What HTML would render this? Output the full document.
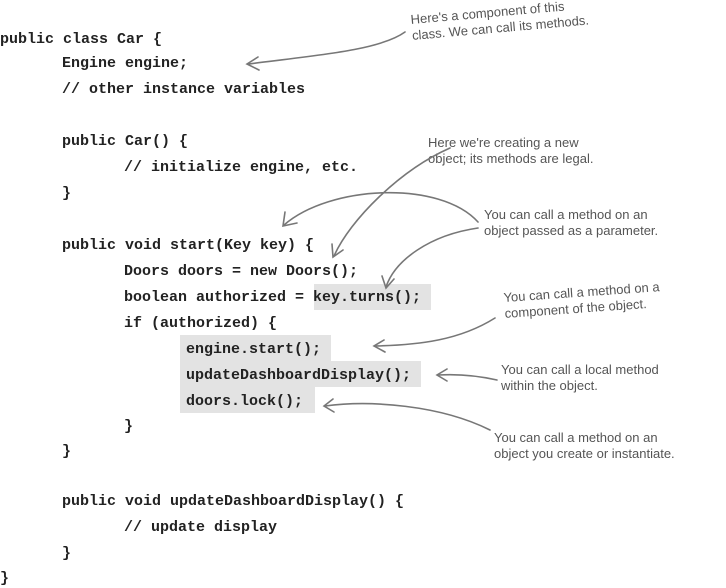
<!DOCTYPE html>
<html><head><meta charset="utf-8"><style>
body{margin:0;width:726px;height:585px;background:#fff;position:relative;overflow:hidden}
.c{position:absolute;font-family:"Liberation Mono",monospace;font-weight:bold;font-size:15px;color:#222;white-space:pre;line-height:18px}
.h{position:absolute;background:#e3e3e3}
.n{position:absolute;font-family:"Liberation Sans",sans-serif;font-size:13px;color:#555;line-height:16px;white-space:pre}
</style></head><body>
<div class="h" style="left:314px;top:284px;width:117px;height:26px"></div>
<div class="h" style="left:180px;top:335px;width:151px;height:26px"></div>
<div class="h" style="left:180px;top:361px;width:241px;height:26px"></div>
<div class="h" style="left:180px;top:387px;width:135px;height:26px"></div>
<div class="c" style="left:0;top:31px">public class Car {</div>
<div class="c" style="left:62px;top:55px">Engine engine;</div>
<div class="c" style="left:62px;top:81px">// other instance variables</div>
<div class="c" style="left:62px;top:133px">public Car() {</div>
<div class="c" style="left:124px;top:159px">// initialize engine, etc.</div>
<div class="c" style="left:62px;top:185px">}</div>
<div class="c" style="left:62px;top:237px">public void start(Key key) {</div>
<div class="c" style="left:124px;top:263px">Doors doors = new Doors();</div>
<div class="c" style="left:124px;top:289px">boolean authorized = key.turns();</div>
<div class="c" style="left:124px;top:315px">if (authorized) {</div>
<div class="c" style="left:186px;top:341px">engine.start();</div>
<div class="c" style="left:186px;top:367px">updateDashboardDisplay();</div>
<div class="c" style="left:186px;top:393px">doors.lock();</div>
<div class="c" style="left:124px;top:418px">}</div>
<div class="c" style="left:62px;top:443px">}</div>
<div class="c" style="left:62px;top:493px">public void updateDashboardDisplay() {</div>
<div class="c" style="left:124px;top:519px">// update display</div>
<div class="c" style="left:62px;top:545px">}</div>
<div class="c" style="left:0;top:570px">}</div>

<div class="n" style="left:410px;top:12px;transform:rotate(-5deg);transform-origin:left top">Here's a component of this
class. We can call its methods.</div>
<div class="n" style="left:428px;top:135px">Here we're creating a new
object; its methods are legal.</div>
<div class="n" style="left:484px;top:207px">You can call a method on an
object passed as a parameter.</div>
<div class="n" style="left:503px;top:290px;transform:rotate(-4deg);transform-origin:left top">You can call a method on a
component of the object.</div>
<div class="n" style="left:501px;top:362px">You can call a local method
within the object.</div>
<div class="n" style="left:494px;top:430px">You can call a method on an
object you create or instantiate.</div>

<svg width="726" height="585" style="position:absolute;left:0;top:0" fill="none" stroke="#777" stroke-width="1.6" stroke-linecap="round">
<path d="M405 32 C380 50 320 55 248 64"/><path d="M258 57 L247 64 L259 70"/>
<path d="M450 148 C400 170 350 220 334 256"/><path d="M332 244 L333 257 L343 250"/>
<path d="M478 222 C440 180 330 185 284 225"/><path d="M285 212 L283 226 L297 223"/>
<path d="M478 228 C430 235 395 260 386 287"/><path d="M382 276 L386 288 L394 279"/>
<path d="M495 318 C460 340 420 345 375 346"/><path d="M384 340 L374 346 L385 352"/>
<path d="M497 380 C475 375 455 374 438 375"/><path d="M447 369 L437 375 L447 381"/>
<path d="M490 430 C440 405 370 400 325 406"/><path d="M333 399 L324 406 L334 412"/>
</svg>
</body></html>
